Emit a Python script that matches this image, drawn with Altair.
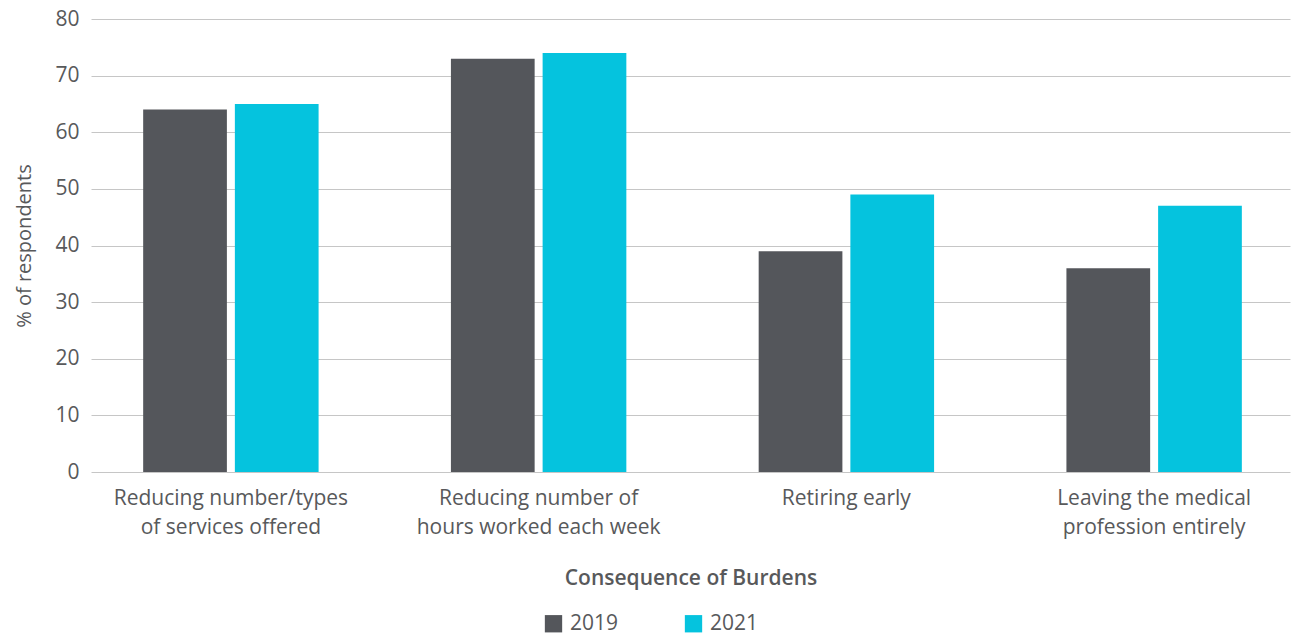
import altair as alt
import pandas as pd

categories = [
    "Reducing number/types\nof services offered",
    "Reducing number of\nhours worked each week",
    "Retiring early",
    "Leaving the medical\nprofession entirely",
]
years = ["2019", "2021"]
values_2019 = [64, 73, 39, 36]
values_2021 = [65, 74, 49, 47]

rows = []
for c, v in zip(categories, values_2019):
    rows.append({"cat": c, "year": "2019", "value": v})
for c, v in zip(categories, values_2021):
    rows.append({"cat": c, "year": "2021", "value": v})
df = pd.DataFrame(rows)

FONT = "Open Sans"
TXT = "#58595b"

chart = alt.Chart(df).mark_bar().encode(
    x=alt.X(
        "cat:N",
        sort=categories,
        scale=alt.Scale(paddingInner=0.43, paddingOuter=0.163, align=0.52),
        axis=alt.Axis(
            title="Consequence of Burdens",
            labelAngle=0,
            labelExpr="split(datum.label, '\\n')",
            labelFontSize=21,
            labelLineHeight=29,
            labelColor=TXT,
            labelPadding=15,
            labelFont=FONT,
            labelLimit=400,
            ticks=False,
            domain=False,
            titleFont=FONT,
            titleFontSize=21,
            titleFontWeight=600,
            titleColor=TXT,
            titlePadding=30,
        ),
    ),
    xOffset=alt.XOffset("year:N", scale=alt.Scale(paddingInner=0.087, paddingOuter=0)),
    y=alt.Y(
        "value:Q",
        scale=alt.Scale(domain=[0, 80]),
        axis=alt.Axis(
            title="% of respondents",
            values=[0, 10, 20, 30, 40, 50, 60, 70, 80],
            labelFontSize=21,
            labelColor=TXT,
            labelFont=FONT,
            labelPadding=12,
            ticks=False,
            domain=False,
            grid=True,
            gridColor="#c6c6c6",
            gridWidth=1,
            titleFont=FONT,
            titleFontSize=20,
            titleFontWeight="normal",
            titleColor=TXT,
            titlePadding=20,
        ),
    ),
    color=alt.Color(
        "year:N",
        scale=alt.Scale(domain=years, range=["#54565b", "#05c3de"]),
        legend=alt.Legend(
            title=None,
            orient="none",
            direction="horizontal",
            legendX=452,
            legendY=594,
            symbolType="square",
            symbolSize=300,
            symbolStrokeWidth=0,
            symbolOpacity=1,
            labelFontSize=21,
            labelFont=FONT,
            labelColor=TXT,
            labelOffset=6,
            columnPadding=64,
        ),
    ),
).properties(
    width=1199,
    height=453,
    autosize=alt.AutoSizeParams(type="none"),
    padding={"left": 91, "top": 19, "right": 2, "bottom": 166},
).configure_view(stroke=None).configure_axis(gridCap="butt")

chart.save("out.html", embed_options={"renderer": "svg", "actions": False})
